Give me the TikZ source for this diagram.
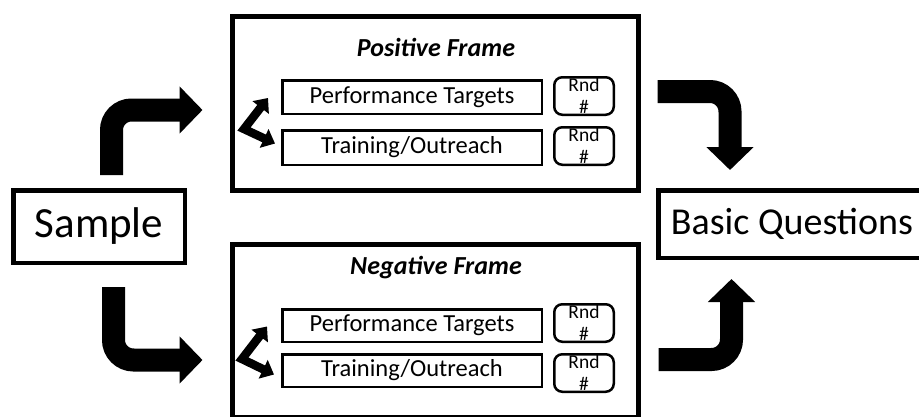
\documentclass[tikz,border=0pt]{standalone}
\usepackage{fontspec}
\setmainfont{Carlito}
\usetikzlibrary{arrows.meta,
                positioning}
\tikzset{bigbox/.style=
   {rectangle,
    draw,
    line width=4.5pt,
    text centered,
    inner sep=0pt,
    font=\fontsize{38}{44}\selectfont}}
\tikzset{frame/.style=
   {rectangle,
    draw,
    line width=5pt,
    minimum width=406pt,
    inner sep=0pt}}
\tikzset{framename/.style=
   {font=\fontsize{26}{30}\selectfont\bfseries\itshape,
    inner sep=0pt}}
\tikzset{item/.style=
   {rectangle,
    draw,
    line width=2.5pt,
    text centered,
    minimum width=259.5pt,
    inner sep=0pt,
    font=\fontsize{24.5}{28}\selectfont}}
\tikzset{rnd/.style=
   {rectangle,
    draw,
    rounded corners=8pt,
    line width=2.5pt,
    align=center,
    minimum width=59.5pt,
    minimum height=37.5pt,
    inner sep=0pt,
    font=\fontsize{19.5}{22}\selectfont}}
\tikzset{bigarrow/.style = {draw, line width=23pt, rounded corners=20pt,
    -{Triangle[length=23pt,width=46pt]}}}
\tikzset{swaparrow/.style = {draw, line width=8.5pt, line join=miter,
    {Triangle[length=12pt,width=20pt]}-{Triangle[length=12pt,width=20pt]}}}

\begin{document}
\begin{tikzpicture}[x=1pt,y=-1pt]

    \useasboundingbox (0,0) rectangle (919,416);

    % Blocks
    \node [bigbox, minimum width=171.5pt, minimum height=72.5pt,
           font=\fontsize{43}{48}\selectfont] (sample) at (99,226.5) {Sample};
    \node [bigbox, minimum width=267.5pt, minimum height=67.5pt] (basic) at (792,224) {Basic Questions};

    \node [frame, minimum height=174pt] (posframe) at (435.5,103.5) {};
    \node [frame, minimum height=173pt] (negframe) at (435.5,331) {};

    % Positive frame
    \node [framename] (postitle) at (436,47) {Positive Frame};
    \node [item, minimum height=33.5pt] (pt1) at (412,97) {Performance Targets};
    \node [item, minimum height=34.5pt] (to1) at (412,147.5) {Training/Outreach};
    \node [rnd] (rnd1) at (584,96) {Rnd\\\#};
    \node [rnd] (rnd2) at (584,146) {Rnd\\\#};
    \coordinate (bend1) at (244,129);

    % Negative frame
    \node [framename] (negtitle) at (436,268) {Negative Frame};
    \node [item, minimum height=32.5pt] (pt2) at (412,325.5) {Performance Targets};
    \node [item, minimum height=32.5pt] (to2) at (412,370.5) {Training/Outreach};
    \node [rnd] (rnd3) at (584,323) {Rnd\\\#};
    \node [rnd] (rnd4) at (584,373) {Rnd\\\#};
    \coordinate (bend2) at (242,359);

    % Draw edges
    % Inside the frames
    \path [swaparrow]
    ([xshift=-13pt,yshift=-1pt] pt1.west)
    -- (bend1)
    -- ([xshift=-6pt,yshift=4pt] to1.west);

    \path [swaparrow]
    ([xshift=-14pt,yshift=-1pt] pt2.west)
    -- (bend2)
    -- ([xshift=-7pt,yshift=-4pt] to2.west);

    % Sample to frames
    \path [bigarrow]
    ([xshift=12.5pt,yshift=13pt] sample.north)
    |- ([xshift=-27.5pt,yshift=-6.5pt] posframe.west);

    \path [bigarrow]
    ([xshift=14.5pt,yshift=-22pt] sample.south)
    |- ([xshift=-27.5pt,yshift=-29pt] negframe.west);

    % Frames to questions
    \path [bigarrow]
    ([xshift=16.5pt,yshift=12pt] posframe.east)
    -| ([xshift=-62pt,yshift=18pt] basic.north);

    \path [bigarrow]
    ([xshift=17.5pt,yshift=-28.5pt] negframe.east)
    -| ([xshift=-60.5pt,yshift=-19pt] basic.south);

\end{tikzpicture}
\end{document}
